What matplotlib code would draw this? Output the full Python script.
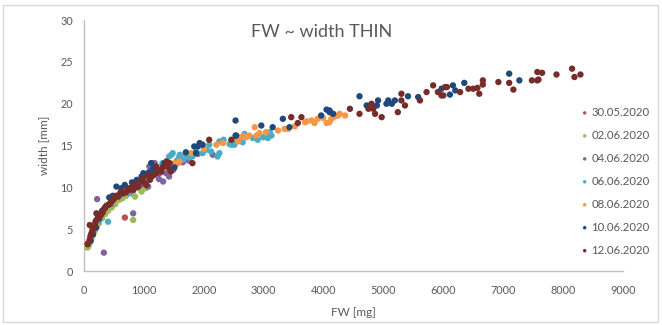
import matplotlib
matplotlib.use("Agg")
import matplotlib.pyplot as plt
from matplotlib.patches import Rectangle

plt.rcParams['font.family'] = ['Lato', 'DejaVu Sans']

# Fresh weight (mg) and leaf width (mm) per sampling date
labels = ["30.05.2020", "02.06.2020", "04.06.2020", "06.06.2020",
          "08.06.2020", "10.06.2020", "12.06.2020"]
colors = ["#C0504D", "#9BBB59", "#8064A2", "#4BACC6",
          "#F79646", "#1F497D", "#772C2A"]

fw_3005 = [60, 90, 110, 140, 170, 210, 260, 320, 380, 450, 520, 682]
w_3005 = [3.3, 3.6, 4.2, 4.6, 5.0, 5.8, 6.3, 7.0, 7.5, 8.0, 8.6, 6.4]

fw_0206 = [55, 67, 80, 95, 120, 150, 180, 210, 250, 300,
           350, 400, 460, 520, 586, 640, 700, 780, 820, 850,
           920, 960, 1030, 1060, 820]
w_0206 = [2.8, 2.9, 3.1, 3.4, 3.8, 4.3, 4.8, 5.2, 5.7, 6.3,
          6.8, 7.2, 7.6, 8.0, 8.5, 8.7, 9.0, 9.3, 9.5, 8.9,
          9.9, 9.5, 9.9, 10.1, 6.1]

fw_0406 = [100, 160, 218, 280, 330, 450, 620, 780, 820, 880,
           950, 1000, 1070, 1090, 1140, 1170, 1180, 1250, 1260, 1320,
           1370, 1420, 1490, 1560, 1650, 1750, 1900, 2150]
w_0406 = [3.9, 5.0, 8.6, 6.6, 2.2, 8.0, 9.2, 9.9, 6.9, 10.0,
          10.3, 10.6, 10.1, 12.5, 12.9, 11.5, 12.9, 11.0, 11.7, 10.7,
          11.7, 11.3, 12.1, 12.9, 13.0, 13.2, 14.0, 13.9]

fw_0606 = [130, 250, 400, 560, 765, 900, 1050, 1200, 1250, 1310,
           1370, 1420, 1460, 1480, 1550, 1590, 1600, 1650, 1700, 1750,
           1810, 1870, 1980, 2040, 2090, 2120, 2230, 2260, 2260, 2330,
           2430, 2460, 2480, 2510, 2570, 2650, 2680, 2820, 2900, 2990,
           3070, 3100, 3130]
w_0606 = [4.3, 6.0, 5.9, 8.8, 9.3, 10.3, 11.2, 12.0, 12.4, 12.9,
          13.1, 13.7, 13.9, 14.1, 13.2, 13.7, 13.9, 13.3, 13.9, 13.6,
          13.7, 14.3, 14.1, 14.5, 15.1, 14.3, 13.7, 14.1, 15.5, 15.7,
          15.2, 15.1, 15.3, 15.1, 15.7, 15.4, 16.4, 15.9, 15.7, 16.0,
          15.9, 16.6, 16.2]

fw_0806 = [350, 520, 700, 900, 1100, 1300, 1510, 1570, 1590, 1790,
           2000, 2210, 2320, 2540, 2570, 2600, 2620, 2650, 2710, 2760,
           2850, 2880, 2930, 3040, 3240, 3350, 3410, 3520, 3690, 3720,
           3800, 3850, 3900, 3990, 4050, 4100, 4130, 4150, 4190, 4240,
           4270, 4360]
w_0806 = [7.3, 8.6, 9.7, 10.6, 11.3, 12.2, 12.9, 12.9, 13.1, 14.1,
          14.6, 15.1, 15.3, 16.0, 15.5, 16.0, 16.0, 16.1, 16.0, 16.2,
          17.2, 16.2, 16.5, 16.6, 16.8, 17.0, 17.0, 17.3, 17.8, 17.9,
          18.0, 17.7, 18.2, 18.3, 17.7, 17.8, 18.2, 18.4, 18.5, 18.6,
          18.8, 18.6]

fw_1006 = [110, 150, 200, 250, 300, 350, 420, 480, 540, 620,
           680, 800, 880, 960, 990, 1080, 1120, 1150, 1340, 1350,
           1510, 1700, 1840, 1870, 1900, 1930, 1980, 2530, 2530, 2540,
           2960, 3150, 3320, 3430, 3960, 4050, 4100, 4100, 4160, 4600,
           4720, 4890, 4910, 5050, 5080, 5140, 5190, 5410, 5580, 5970,
           6110, 6160, 6200, 6350, 7100, 7270]
w_1006 = [3.6, 4.4, 5.2, 6.3, 7.2, 7.6, 8.8, 9.0, 10.1, 9.9,
          10.3, 10.6, 10.9, 11.3, 11.7, 11.8, 12.9, 12.2, 12.9, 12.6,
          12.4, 14.2, 14.9, 14.1, 14.9, 15.3, 15.1, 18.0, 16.2, 16.2,
          17.4, 17.2, 18.2, 17.2, 18.6, 19.3, 19.2, 19.0, 18.8, 20.9,
          19.8, 19.8, 20.4, 20.0, 20.4, 20.0, 20.4, 20.9, 20.8, 21.8,
          21.1, 22.2, 21.6, 22.5, 23.6, 22.8]

fw_1206 = [60, 95, 95, 110, 122, 140, 150, 165, 180, 190,
           206, 206, 235, 250, 270, 290, 310, 330, 347, 370,
           400, 420, 450, 485, 500, 530, 570, 600, 620, 653,
           700, 730, 765, 790, 820, 850, 875, 905, 950, 980,
           1020, 1040, 1060, 1100, 1130, 1160, 1200, 1210, 1250, 1280,
           1290, 1320, 1340, 1380, 1400, 1420, 1430, 1450, 1810, 2090,
           2460, 3460, 3570, 3630, 4440, 4600, 4750, 4800, 4830, 4860,
           4970, 5240, 5300, 5300, 5360, 5610, 5720, 5830, 5910, 5970,
           6000, 6030, 6060, 6280, 6420, 6500, 6570, 6600, 6660, 6660,
           6920, 7100, 7170, 7480, 7570, 7570, 7590, 7650, 7890, 8150,
           8190, 8290]
w_1206 = [3.2, 3.7, 5.5, 4.2, 4.5, 4.9, 5.1, 5.4, 5.5, 5.9,
          6.1, 6.9, 6.5, 6.3, 6.7, 6.9, 7.0, 7.4, 7.5, 7.8,
          7.9, 8.0, 8.3, 8.5, 8.7, 9.0, 8.9, 9.3, 9.5, 9.3,
          9.4, 9.9, 9.7, 10.0, 9.7, 10.4, 10.1, 10.1, 10.7, 11.1,
          10.5, 10.3, 11.4, 10.9, 11.3, 11.5, 12.5, 11.7, 12.0, 12.1,
          11.9, 12.5, 12.5, 13.1, 12.9, 12.3, 12.9, 11.9, 12.9, 15.7,
          15.7, 18.4, 17.7, 18.4, 19.4, 18.8, 19.4, 20.0, 19.4, 18.8,
          18.4, 19.0, 21.2, 20.4, 19.8, 20.4, 21.4, 22.2, 21.4, 21.0,
          21.0, 22.0, 22.0, 21.4, 21.8, 21.8, 21.9, 21.2, 22.8, 22.3,
          22.6, 22.5, 21.7, 22.8, 22.8, 23.8, 22.9, 23.7, 23.5, 24.2,
          23.2, 23.5]

x_ticks = [0, 1000, 2000, 3000, 4000, 5000, 6000, 7000, 8000, 9000]
y_ticks = [0, 5, 10, 15, 20, 25, 30]

series_fw = [fw_3005, fw_0206, fw_0406, fw_0606, fw_0806, fw_1006, fw_1206]
series_w = [w_3005, w_0206, w_0406, w_0606, w_0806, w_1006, w_1206]

text_col = "#595959"
axis_col = "#BFBFBF"

fig = plt.figure(figsize=(6.62, 3.25), dpi=100)
fig.patches.append(Rectangle((0.004, 0.01), 0.99, 0.975, transform=fig.transFigure,
                             fill=False, edgecolor="#D9D9D9", linewidth=1.0))
ax = fig.add_axes([0.127, 0.166, 0.814, 0.772])

handles = []
for fw, w, c, lab in zip(series_fw, series_w, colors, labels):
    h = ax.scatter(fw, w, s=21, color=c, edgecolors='none', label=lab, zorder=3)
    handles.append(h)

ax.set_xlim(0, 9000)
ax.set_ylim(0, 30)
ax.set_xticks(x_ticks)
ax.set_yticks(y_ticks)
ax.tick_params(axis='x', length=0, labelsize=7.8, colors=text_col, pad=10)
ax.tick_params(axis='y', length=0, labelsize=7.8, colors=text_col, pad=8)
for side in ("top", "right"):
    ax.spines[side].set_visible(False)
for side in ("left", "bottom"):
    ax.spines[side].set_color(axis_col)
    ax.spines[side].set_linewidth(1.0)

ax.set_xlabel("FW [mg]", fontsize=8.5, color=text_col, labelpad=8)
ax.set_ylabel("width [mm]", fontsize=8.5, color=text_col, labelpad=8)
ax.text(0.44, 0.985, "FW ~ width THIN", transform=ax.transAxes, ha='center', va='top',
        fontsize=13, color=text_col)

leg = fig.legend(handles=handles, labels=labels, loc='upper left',
                 bbox_to_anchor=(0.866, 0.685), frameon=False, fontsize=8.2,
                 labelcolor=text_col, markerscale=0.55, handletextpad=0.0,
                 labelspacing=1.05, borderaxespad=0, handlelength=1.2)

fig.savefig("out.png", dpi=100)
